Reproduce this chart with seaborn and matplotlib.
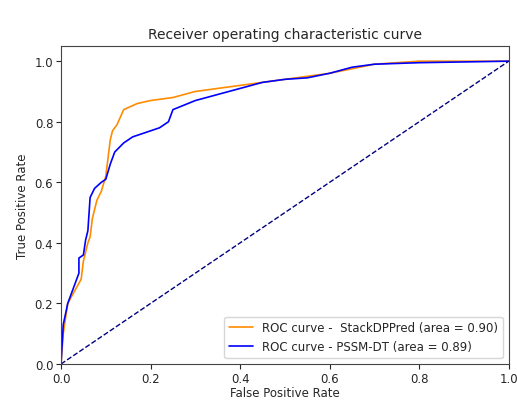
import matplotlib
matplotlib.use("Agg")
import matplotlib.pyplot as plt
import seaborn as sns
import pandas as pd

fpr_stack = [0, 0.005, 0.015, 0.03, 0.045, 0.05, 0.06, 0.065, 0.07, 0.08, 0.09, 0.1, 0.105, 0.11,
             0.115, 0.125, 0.14, 0.17, 0.2, 0.25, 0.3, 0.4, 0.5, 0.6, 0.7, 0.8, 1.0]
tpr_stack = [0, 0.1, 0.2, 0.24, 0.28, 0.34, 0.4, 0.42, 0.48, 0.54, 0.57, 0.62, 0.68, 0.74,
             0.77, 0.79, 0.84, 0.86, 0.87, 0.88, 0.9, 0.92, 0.94, 0.96, 0.99, 1.0, 1.0]
fpr_pssm = [0, 0.005, 0.015, 0.03, 0.04, 0.04, 0.05, 0.055, 0.06, 0.065, 0.075, 0.09, 0.1, 0.11,
            0.12, 0.14, 0.16, 0.2, 0.22, 0.24, 0.25, 0.3, 0.35, 0.4, 0.45, 0.5, 0.55, 0.6, 0.65,
            0.7, 0.8, 1.0]
tpr_pssm = [0, 0.13, 0.2, 0.26, 0.3, 0.35, 0.36, 0.41, 0.44, 0.55, 0.58, 0.6, 0.61, 0.66,
            0.7, 0.73, 0.75, 0.77, 0.78, 0.8, 0.84, 0.87, 0.89, 0.91, 0.93, 0.94, 0.945, 0.96, 0.98,
            0.99, 0.995, 1.0]
auc_stack = 0.90
auc_pssm = 0.89

sns.set_style("ticks")
fig, ax = plt.subplots(figsize=(5.17, 4.02), dpi=100)
fig.subplots_adjust(left=0.118, right=0.984, top=0.883, bottom=0.092)

df_s = pd.DataFrame({"fpr": fpr_stack, "tpr": tpr_stack})
df_p = pd.DataFrame({"fpr": fpr_pssm, "tpr": tpr_pssm})
sns.lineplot(data=df_s, x="fpr", y="tpr", sort=False, estimator=None, color="darkorange", lw=1.2,
             label="ROC curve -  StackDPPred (area = %0.2f)" % auc_stack, ax=ax)
sns.lineplot(data=df_p, x="fpr", y="tpr", sort=False, estimator=None, color="blue", lw=1.2,
             label="ROC curve - PSSM-DT (area = %0.2f)" % auc_pssm, ax=ax)
ax.plot([0, 1], [0, 1], color="navy", lw=1, linestyle="--")

ax.set_xlim(0, 1.0)
ax.set_ylim(0, 1.05)
ax.set_xticks([0, 0.2, 0.4, 0.6, 0.8, 1.0])
ax.set_yticks([0, 0.2, 0.4, 0.6, 0.8, 1.0])
ax.tick_params(labelsize=8.5, length=3.5, direction="out", pad=2)
ax.set_xlabel("False Positive Rate", fontsize=8.5, labelpad=1)
ax.set_ylabel("True Positive Rate", fontsize=8.5)
ax.set_title("Receiver operating characteristic curve", fontsize=10)
for s in ax.spines.values():
    s.set_visible(True)
    s.set_color("#444444")
ax.legend(loc="lower right", fontsize=8.5, frameon=True)

fig.savefig("out.png", dpi=100)
